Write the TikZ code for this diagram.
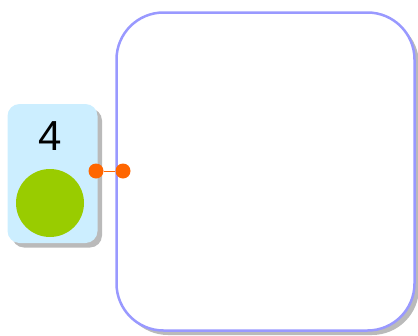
\documentclass[tikz,border=0pt]{standalone}
\usepackage{fontspec}
\setmainfont{Liberation Sans}
\usetikzlibrary{shadows}
\definecolor{boxblue}{HTML}{CCEEFF}
\definecolor{framelilac}{HTML}{9999FF}
\definecolor{ballgreen}{HTML}{99CC00}
\definecolor{portorange}{HTML}{FF6600}

\begin{document}
\begin{tikzpicture} [
	x=1pt, y=1pt,
	shade/.style = {drop shadow={shadow xshift=4.5pt, shadow yshift=-4.5pt, fill=black!27, opacity=1}},
	card/.style = {shade, fill=boxblue, rounded corners=12pt, minimum width=90pt, minimum height=139pt, inner sep=0pt},
	frame/.style = {shade, draw=framelilac, line width=2.5pt, fill=white, rounded corners=47pt, minimum width=298pt, minimum height=318pt, inner sep=0pt},
	ball/.style = {circle, fill=ballgreen, minimum size=68pt, inner sep=0pt},
	port/.style = {circle, fill=portorange, minimum size=15pt, inner sep=0pt},
]
\useasboundingbox (0,0) rectangle (418,-335);
\node [card] (counter) at (52.5,-173.5) {};
\node [font=\fontsize{42}{42}\selectfont] (count) at (50,-136) {4};
\node [ball] (token) at (50,-203) {};
\node [frame] (region) at (265.5,-171.5) {};
\node [port] (out) at (96,-171) {};
\node [port] (in) at (123,-171) {};
\draw [portorange, line width=1pt] (out) -- (in);
\end{tikzpicture}
\end{document}
